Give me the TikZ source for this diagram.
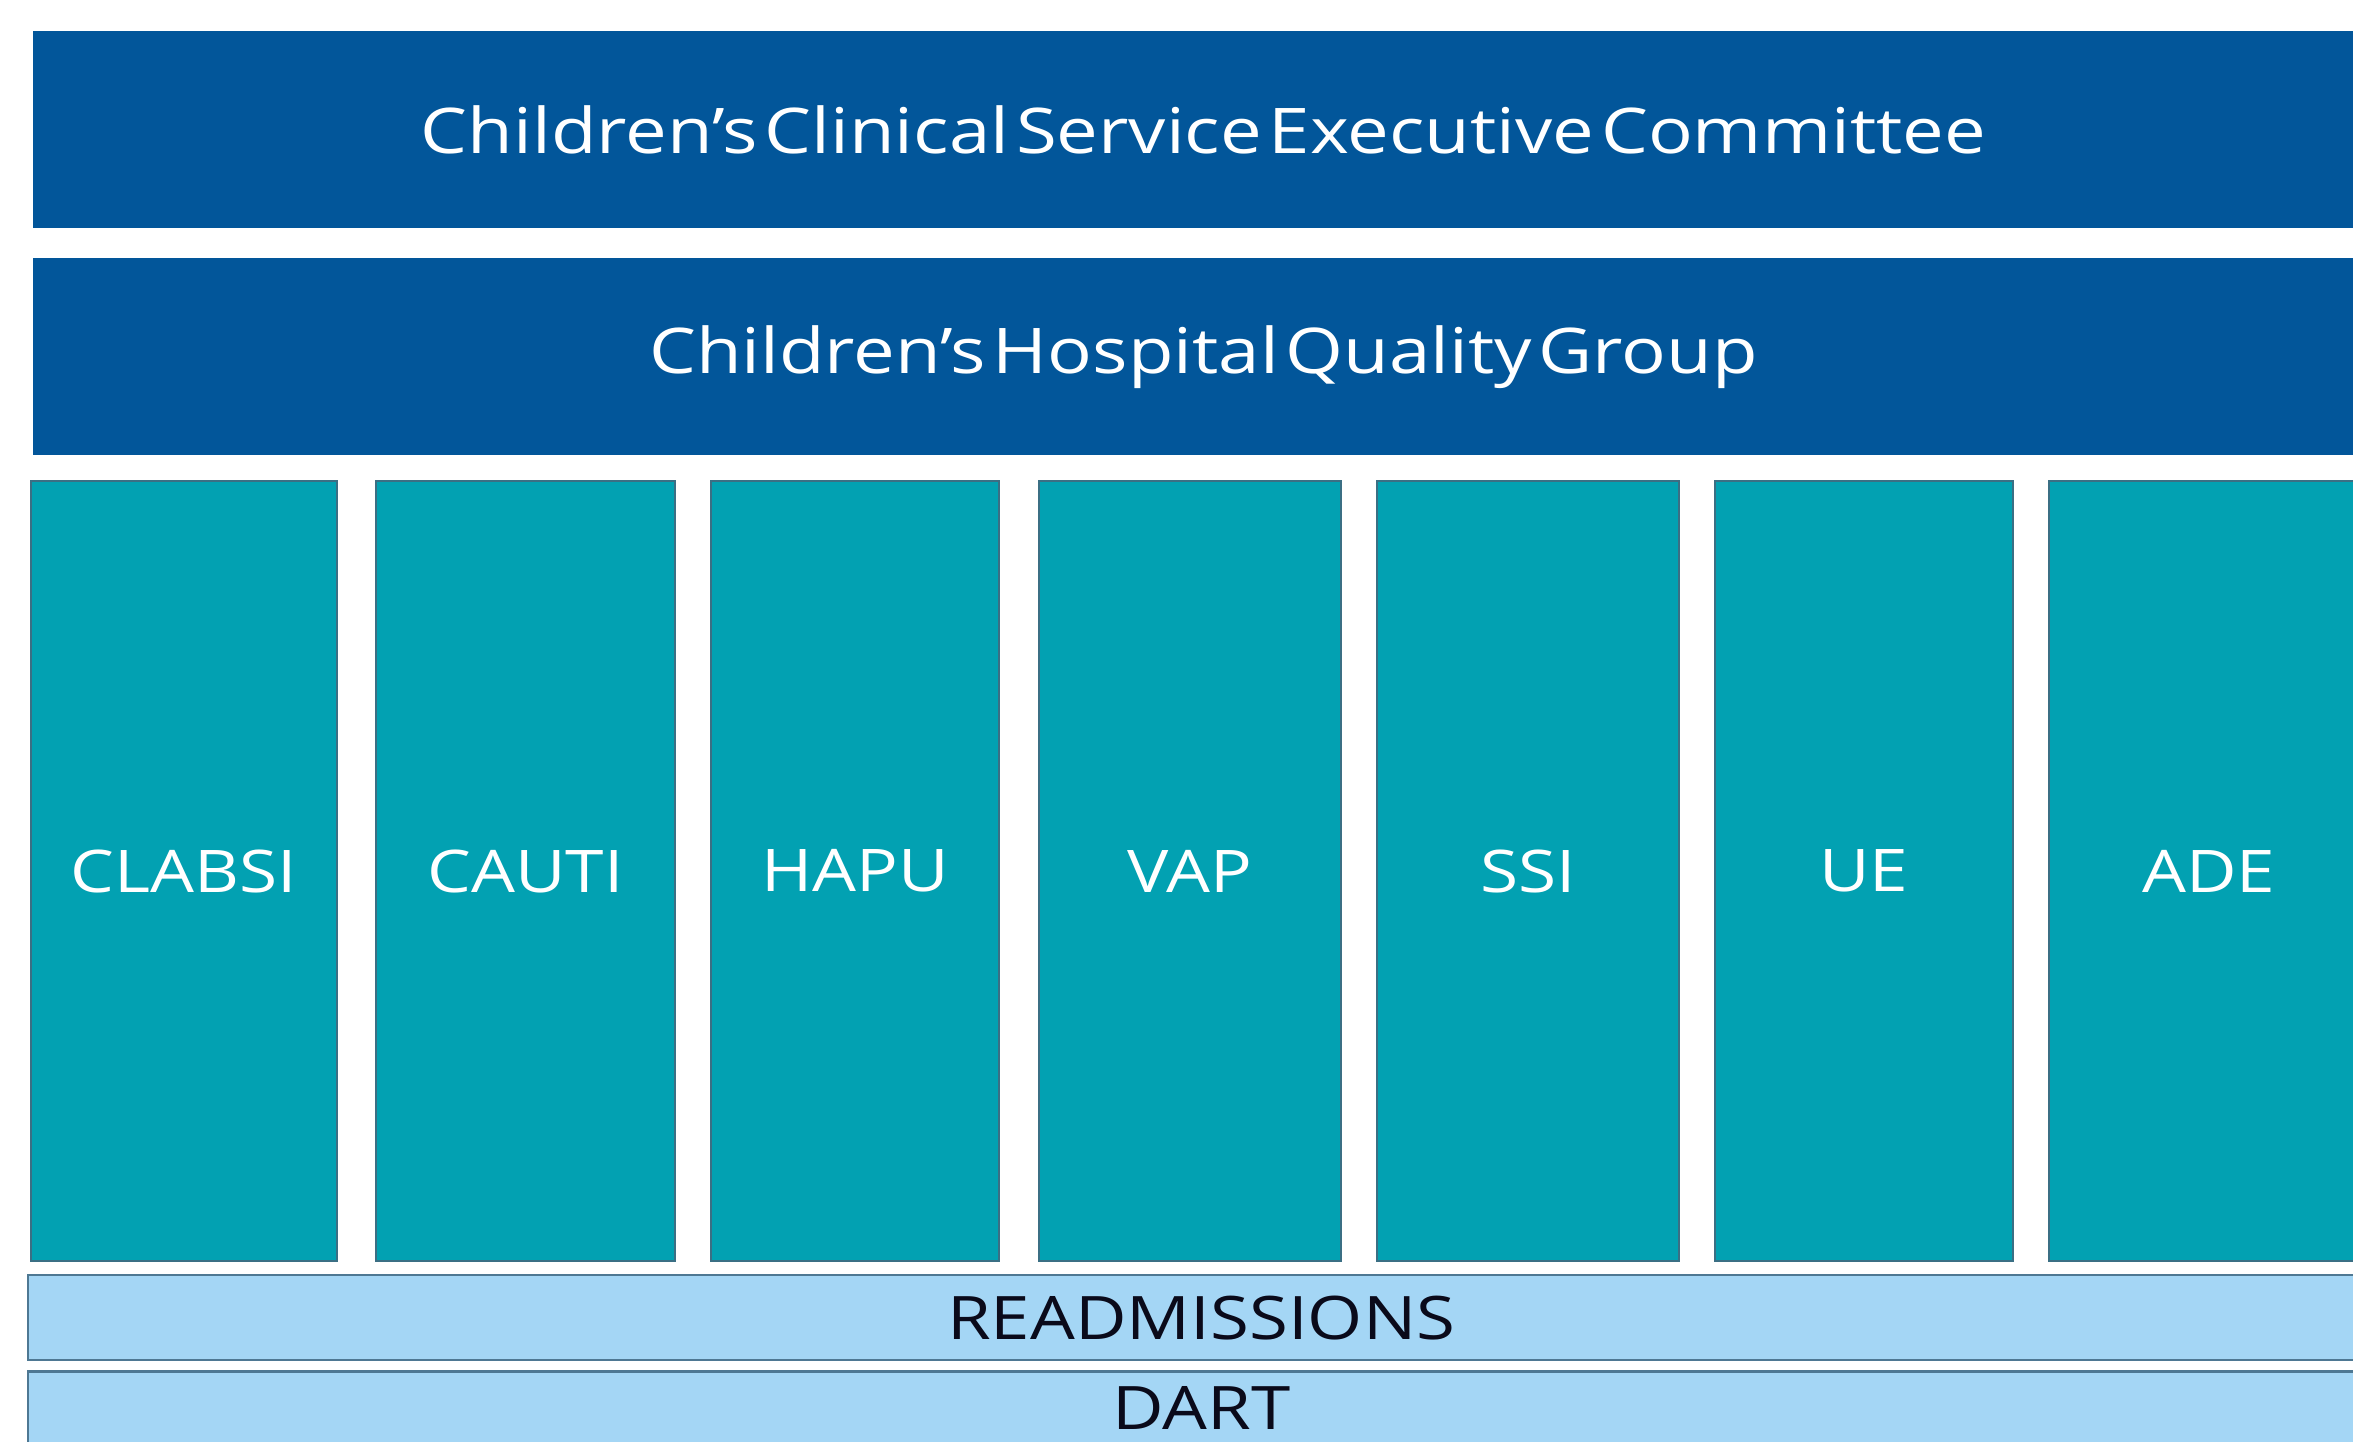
\documentclass[tikz,border=0pt]{standalone}
\usepackage{fontspec}
\setmainfont[FakeStretch=1.18, WordSpace=0.35]{Open Sans}
\usetikzlibrary{positioning}
\definecolor{execblue}{HTML}{02569A}
\definecolor{teamteal}{HTML}{02A1B2}
\definecolor{tealedge}{HTML}{3B6F84}
\definecolor{barblue}{HTML}{A4D6F5}
\definecolor{baredge}{HTML}{4E7893}
\definecolor{bartext}{HTML}{0A0A1A}
\begin{document}
\begin{tikzpicture}[x=0.5pt, y=-0.5pt, inner sep=0pt,
    banner/.style={fill=execblue, text=white, minimum width=1170pt, minimum height=98.5pt, font=\fontsize{31.5}{36}\selectfont},
    column/.style={fill=teamteal, draw=tealedge, line width=1pt, text=white, minimum height=390pt, font=\fontsize{29.4}{34}\selectfont},
    bar/.style={fill=barblue, draw=baredge, line width=1.2pt, text=bartext, minimum width=1173pt, font=\fontsize{30}{34}\selectfont}]
      \useasboundingbox (0,0) rectangle (2353,1441);
      \clip (0,0) rectangle (2353,1441);

      \node[banner, anchor=north west] (committee) at (33,31) {Children’s Clinical Service Executive Committee};
      \node[banner, below=14.5pt of committee] (quality) {Children’s Hospital Quality Group};

      \node[column, minimum width=153pt, anchor=north west] (clabsi) at (30,480) {CLABSI};
      \node[column, minimum width=149.5pt, right=18.5pt of clabsi] (cauti) {CAUTI};
      \node[column, minimum width=144pt, right=17pt of cauti] (hapu) {HAPU};
      \node[column, minimum width=151pt, right=19pt of hapu] (vap) {VAP};
      \node[column, minimum width=151pt, right=17pt of vap] (ssi) {SSI};
      \node[column, minimum width=149pt, right=17pt of ssi] (ue) {UE};
      \node[column, minimum width=160pt, right=17pt of ue] (ade) {ADE};

      \node[bar, minimum height=42.5pt, anchor=north west] (readmit) at (27,1274) {READMISSIONS};
      \node[bar, minimum height=43pt, text depth=7pt, below=4.5pt of readmit] (dart) {DART};
    \end{tikzpicture}
\end{document}
